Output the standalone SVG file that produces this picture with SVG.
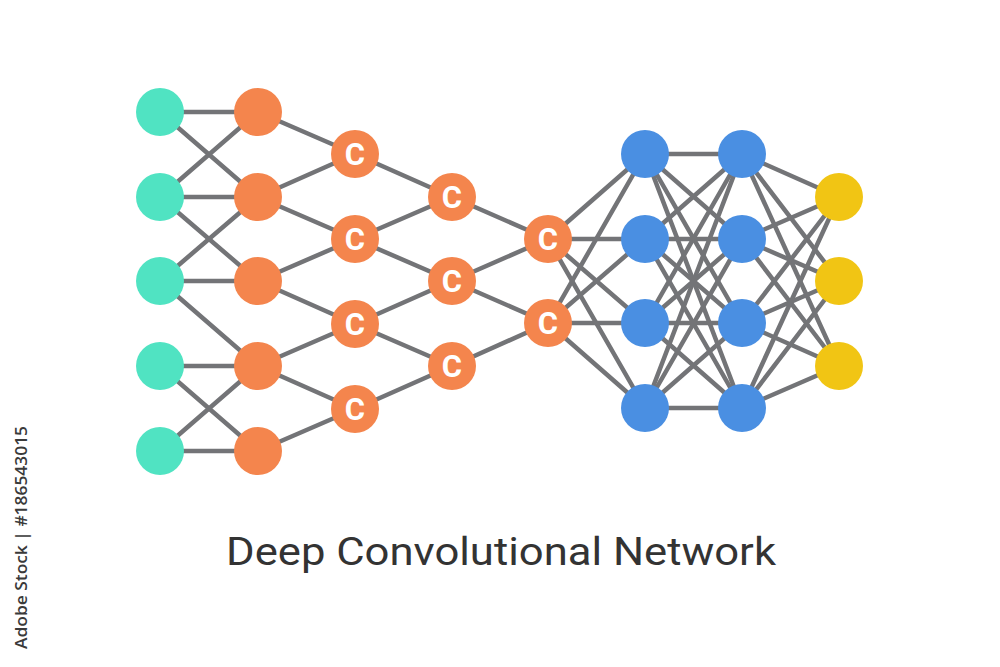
<svg xmlns="http://www.w3.org/2000/svg" width="1000" height="667" viewBox="0 0 1000 667">
<style>
.e{stroke:#737477;stroke-width:4.5;stroke-linecap:round;fill:none}
.t{fill:#50E3C2}
.o{fill:#F4854D}
.b{fill:#4A8FE2}
.y{fill:#F1C514}
.c{fill:#fff;font-family:Roboto,"Liberation Sans",sans-serif;font-weight:700;font-size:31px;text-anchor:middle}
.title{fill:#333;font-family:Roboto,"Liberation Sans",sans-serif;font-size:38.5px;text-anchor:middle}
.wm{fill:#3a3a3a;font-family:"Open Sans","Liberation Sans",sans-serif;font-weight:600;font-size:16px;text-anchor:end}
</style>
<rect width="1000" height="667" fill="#fff"/>
<g id="connectors" class="e">
<line x1="160" y1="112" x2="258" y2="112"/>
<line x1="160" y1="112" x2="258" y2="197"/>
<line x1="160" y1="197" x2="258" y2="112"/>
<line x1="160" y1="197" x2="258" y2="197"/>
<line x1="160" y1="197" x2="258" y2="281"/>
<line x1="160" y1="281" x2="258" y2="197"/>
<line x1="160" y1="281" x2="258" y2="281"/>
<line x1="160" y1="281" x2="258" y2="366"/>
<line x1="160" y1="366" x2="258" y2="366"/>
<line x1="160" y1="366" x2="258" y2="451"/>
<line x1="160" y1="451" x2="258" y2="366"/>
<line x1="160" y1="451" x2="258" y2="451"/>
<line x1="258" y1="112" x2="355" y2="154"/>
<line x1="258" y1="197" x2="355" y2="154"/>
<line x1="258" y1="197" x2="355" y2="239"/>
<line x1="258" y1="281" x2="355" y2="239"/>
<line x1="258" y1="281" x2="355" y2="324"/>
<line x1="258" y1="366" x2="355" y2="324"/>
<line x1="258" y1="366" x2="355" y2="409"/>
<line x1="258" y1="451" x2="355" y2="409"/>
<line x1="355" y1="154" x2="452" y2="197"/>
<line x1="355" y1="239" x2="452" y2="197"/>
<line x1="355" y1="239" x2="452" y2="281"/>
<line x1="355" y1="324" x2="452" y2="281"/>
<line x1="355" y1="324" x2="452" y2="366"/>
<line x1="355" y1="409" x2="452" y2="366"/>
<line x1="452" y1="197" x2="548" y2="239"/>
<line x1="452" y1="281" x2="548" y2="239"/>
<line x1="452" y1="281" x2="548" y2="323"/>
<line x1="452" y1="366" x2="548" y2="323"/>
<line x1="548" y1="239" x2="645" y2="154"/>
<line x1="548" y1="239" x2="645" y2="239"/>
<line x1="548" y1="239" x2="645" y2="323"/>
<line x1="548" y1="239" x2="645" y2="408"/>
<line x1="548" y1="323" x2="645" y2="154"/>
<line x1="548" y1="323" x2="645" y2="239"/>
<line x1="548" y1="323" x2="645" y2="323"/>
<line x1="548" y1="323" x2="645" y2="408"/>
<line x1="645" y1="154" x2="742" y2="154"/>
<line x1="645" y1="154" x2="742" y2="239"/>
<line x1="645" y1="154" x2="742" y2="323"/>
<line x1="645" y1="154" x2="742" y2="408"/>
<line x1="645" y1="239" x2="742" y2="154"/>
<line x1="645" y1="239" x2="742" y2="239"/>
<line x1="645" y1="239" x2="742" y2="323"/>
<line x1="645" y1="239" x2="742" y2="408"/>
<line x1="645" y1="323" x2="742" y2="154"/>
<line x1="645" y1="323" x2="742" y2="239"/>
<line x1="645" y1="323" x2="742" y2="323"/>
<line x1="645" y1="323" x2="742" y2="408"/>
<line x1="645" y1="408" x2="742" y2="154"/>
<line x1="645" y1="408" x2="742" y2="239"/>
<line x1="645" y1="408" x2="742" y2="323"/>
<line x1="645" y1="408" x2="742" y2="408"/>
<line x1="742" y1="154" x2="839" y2="197"/>
<line x1="742" y1="154" x2="839" y2="281"/>
<line x1="742" y1="154" x2="839" y2="366"/>
<line x1="742" y1="239" x2="839" y2="197"/>
<line x1="742" y1="239" x2="839" y2="281"/>
<line x1="742" y1="239" x2="839" y2="366"/>
<line x1="742" y1="323" x2="839" y2="197"/>
<line x1="742" y1="323" x2="839" y2="281"/>
<line x1="742" y1="323" x2="839" y2="366"/>
<line x1="742" y1="408" x2="839" y2="197"/>
<line x1="742" y1="408" x2="839" y2="281"/>
<line x1="742" y1="408" x2="839" y2="366"/>
</g>
<g id="input1"><circle class="t" cx="160" cy="112" r="24"/></g>
<g id="input2"><circle class="t" cx="160" cy="197" r="24"/></g>
<g id="input3"><circle class="t" cx="160" cy="281" r="24"/></g>
<g id="input4"><circle class="t" cx="160" cy="366" r="24"/></g>
<g id="input5"><circle class="t" cx="160" cy="451" r="24"/></g>
<g id="kernel1"><circle class="o" cx="258" cy="112" r="24"/></g>
<g id="kernel2"><circle class="o" cx="258" cy="197" r="24"/></g>
<g id="kernel3"><circle class="o" cx="258" cy="281" r="24"/></g>
<g id="kernel4"><circle class="o" cx="258" cy="366" r="24"/></g>
<g id="kernel5"><circle class="o" cx="258" cy="451" r="24"/></g>
<g id="conv1a"><circle class="o" cx="355" cy="154" r="24"/><text class="c" x="355" y="165">C</text></g>
<g id="conv1b"><circle class="o" cx="355" cy="239" r="24"/><text class="c" x="355" y="250">C</text></g>
<g id="conv1c"><circle class="o" cx="355" cy="324" r="24"/><text class="c" x="355" y="335">C</text></g>
<g id="conv1d"><circle class="o" cx="355" cy="409" r="24"/><text class="c" x="355" y="420">C</text></g>
<g id="conv2a"><circle class="o" cx="452" cy="197" r="24"/><text class="c" x="452" y="208">C</text></g>
<g id="conv2b"><circle class="o" cx="452" cy="281" r="24"/><text class="c" x="452" y="292">C</text></g>
<g id="conv2c"><circle class="o" cx="452" cy="366" r="24"/><text class="c" x="452" y="377">C</text></g>
<g id="conv3a"><circle class="o" cx="548" cy="239" r="24"/><text class="c" x="548" y="250">C</text></g>
<g id="conv3b"><circle class="o" cx="548" cy="323" r="24"/><text class="c" x="548" y="334">C</text></g>
<g id="hidden1a"><circle class="b" cx="645" cy="154" r="24"/></g>
<g id="hidden1b"><circle class="b" cx="645" cy="239" r="24"/></g>
<g id="hidden1c"><circle class="b" cx="645" cy="323" r="24"/></g>
<g id="hidden1d"><circle class="b" cx="645" cy="408" r="24"/></g>
<g id="hidden2a"><circle class="b" cx="742" cy="154" r="24"/></g>
<g id="hidden2b"><circle class="b" cx="742" cy="239" r="24"/></g>
<g id="hidden2c"><circle class="b" cx="742" cy="323" r="24"/></g>
<g id="hidden2d"><circle class="b" cx="742" cy="408" r="24"/></g>
<g id="output1"><circle class="y" cx="839" cy="197" r="24"/></g>
<g id="output2"><circle class="y" cx="839" cy="281" r="24"/></g>
<g id="output3"><circle class="y" cx="839" cy="366" r="24"/></g>
<g id="title"><text class="title" x="501" y="565" textLength="550" lengthAdjust="spacingAndGlyphs">Deep Convolutional Network</text></g>
<g id="watermark"><text class="wm" transform="translate(27,426) rotate(-90)" textLength="223" lengthAdjust="spacingAndGlyphs">Adobe Stock | #186543015</text></g>
</svg>
